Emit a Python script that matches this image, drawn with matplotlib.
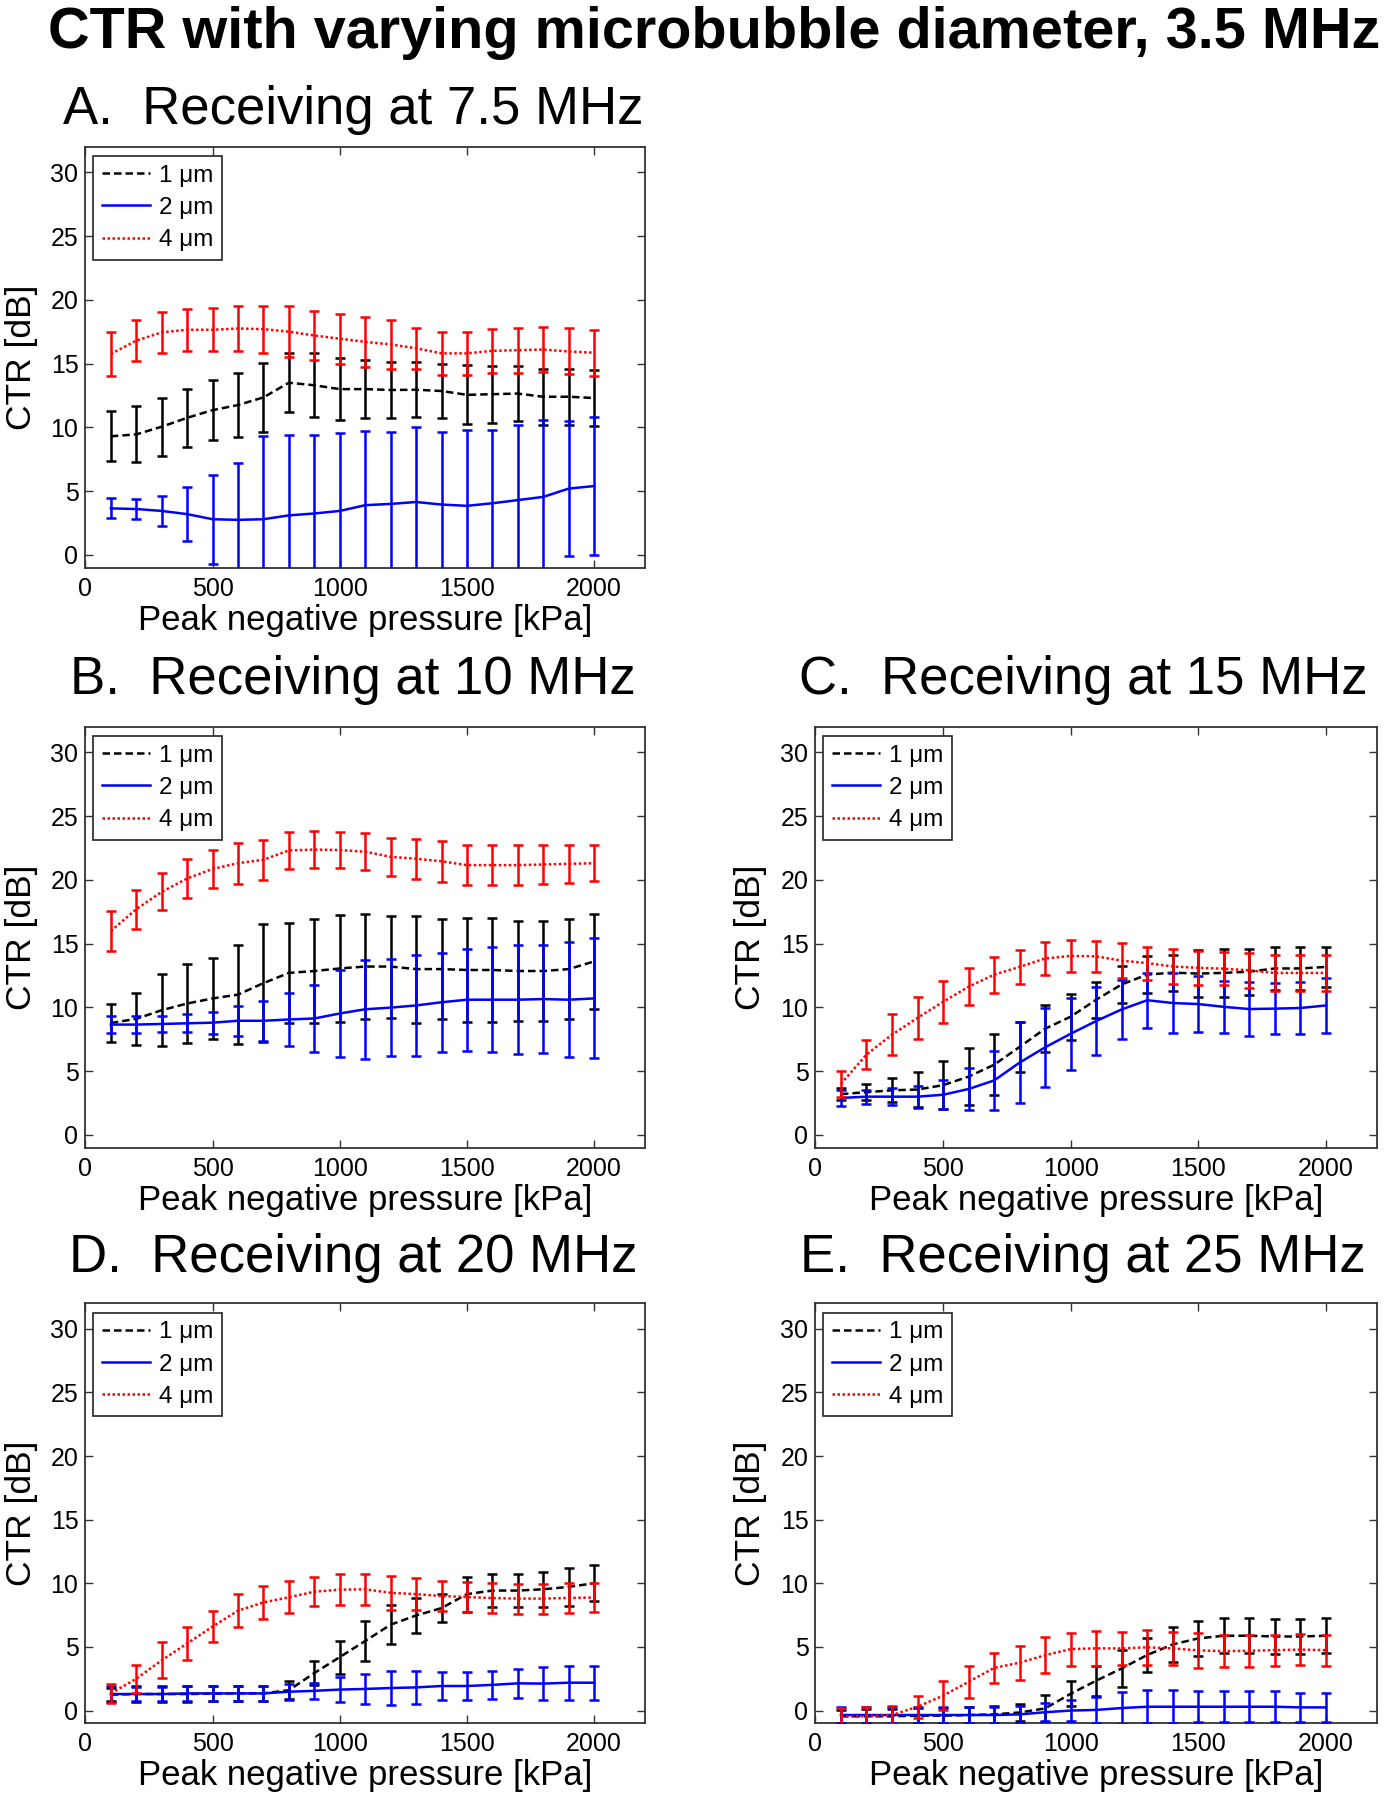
import matplotlib
matplotlib.use("Agg")
import matplotlib.pyplot as plt
import numpy as np

plt.rcParams['font.family'] = ['Liberation Sans', 'DejaVu Sans']

# ---------------- data ----------------
pressure = [100, 200, 300, 400, 500, 600, 700, 800, 900, 1000,
            1100, 1200, 1300, 1400, 1500, 1600, 1700, 1800, 1900, 2000]
diam_labels = ["1 \u03bcm", "2 \u03bcm", "4 \u03bcm"]
panel_titles = ["A.  Receiving at 7.5 MHz", "B.  Receiving at 10 MHz",
                "C.  Receiving at 15 MHz", "D.  Receiving at 20 MHz",
                "E.  Receiving at 25 MHz"]
main_title = "CTR with varying microbubble diameter, 3.5 MHz"
x_ticks = [0, 500, 1000, 1500, 2000]
y_ticks = [0, 5, 10, 15, 20, 25, 30]

# Panel A (7.5 MHz)
A_k_mean = [9.3, 9.45, 10.05, 10.75, 11.35, 11.75, 12.35, 13.5, 13.3, 13.0, 13.0, 12.93, 12.95, 12.85, 12.55, 12.6, 12.65, 12.4, 12.4, 12.3]
A_k_err = [1.97, 2.2, 2.27, 2.27, 2.37, 2.5, 2.7, 2.3, 2.5, 2.4, 2.3, 2.23, 2.15, 2.15, 2.3, 2.22, 2.15, 2.2, 2.19, 2.23]
A_b_mean = [3.65, 3.6, 3.45, 3.2, 2.8, 2.75, 2.8, 3.1, 3.25, 3.45, 3.9, 4.0, 4.15, 3.95, 3.85, 4.05, 4.3, 4.55, 5.2, 5.4]
A_b_err = [0.78, 0.8, 1.2, 2.1, 3.5, 4.43, 6.5, 6.3, 6.15, 6.1, 5.8, 5.65, 5.85, 5.7, 5.95, 5.75, 5.9, 6.05, 5.3, 5.4]
A_r_mean = [15.75, 16.8, 17.45, 17.65, 17.65, 17.75, 17.7, 17.5, 17.2, 16.95, 16.7, 16.5, 16.2, 15.8, 15.8, 16.0, 16.05, 16.1, 15.95, 15.85]
A_r_err = [1.75, 1.6, 1.6, 1.65, 1.7, 1.8, 1.85, 2.0, 1.9, 1.95, 1.95, 1.9, 1.6, 1.7, 1.7, 1.7, 1.75, 1.75, 1.8, 1.8]

# Panel B (10 MHz)
B_k_mean = [8.77, 9.1, 9.78, 10.3, 10.7, 11.0, 11.9, 12.7, 12.85, 13.05, 13.2, 13.2, 13.0, 13.0, 12.93, 12.93, 12.85, 12.85, 13.0, 13.6]
B_k_err = [1.5, 2.05, 2.8, 3.07, 3.2, 3.9, 4.6, 3.9, 4.05, 4.2, 4.1, 4.0, 4.2, 3.9, 4.05, 4.05, 3.95, 3.95, 3.9, 3.7]
B_b_mean = [8.65, 8.65, 8.7, 8.75, 8.8, 8.95, 8.95, 9.05, 9.13, 9.52, 9.85, 9.98, 10.15, 10.4, 10.6, 10.6, 10.6, 10.65, 10.6, 10.7]
B_b_err = [0.67, 0.67, 0.65, 0.7, 0.85, 1.17, 1.55, 2.05, 2.65, 3.43, 3.9, 3.8, 3.95, 3.9, 4.0, 4.1, 4.25, 4.25, 4.5, 4.7]
B_r_mean = [15.98, 17.7, 19.05, 20.1, 20.85, 21.3, 21.57, 22.3, 22.37, 22.33, 22.2, 21.8, 21.65, 21.45, 21.15, 21.15, 21.15, 21.2, 21.25, 21.3]
B_r_err = [1.55, 1.52, 1.45, 1.5, 1.5, 1.6, 1.55, 1.45, 1.45, 1.42, 1.47, 1.5, 1.55, 1.62, 1.55, 1.55, 1.55, 1.52, 1.48, 1.42]

# Panel C (15 MHz)
C_k_mean = [3.2, 3.35, 3.5, 3.56, 3.9, 4.57, 5.5, 6.9, 8.33, 9.27, 10.6, 11.8, 12.57, 12.72, 12.65, 12.7, 12.8, 13.05, 13.05, 13.17]
C_k_err = [0.5, 0.65, 0.93, 1.4, 1.87, 2.23, 2.4, 1.95, 1.85, 1.8, 1.4, 1.42, 1.43, 1.4, 1.85, 1.9, 1.8, 1.65, 1.65, 1.6]
C_b_mean = [2.9, 3.0, 3.0, 3.0, 3.15, 3.6, 4.27, 5.67, 6.87, 7.93, 8.93, 9.84, 10.56, 10.34, 10.26, 10.04, 9.87, 9.9, 9.95, 10.15]
C_b_err = [0.6, 0.55, 0.65, 0.85, 1.12, 1.66, 2.33, 3.2, 3.1, 2.83, 2.65, 2.34, 2.14, 2.36, 2.18, 2.06, 2.1, 2.0, 2.05, 2.15]
C_r_mean = [4.0, 6.3, 7.86, 9.17, 10.43, 11.62, 12.56, 13.17, 13.83, 14.03, 14.0, 13.66, 13.47, 13.2, 13.1, 13.03, 12.9, 12.7, 12.7, 12.7]
C_r_err = [1.04, 1.14, 1.6, 1.66, 1.67, 1.46, 1.42, 1.33, 1.27, 1.26, 1.22, 1.36, 1.3, 1.38, 1.32, 1.3, 1.36, 1.38, 1.42, 1.42]

# Panel D (20 MHz)
D_k_mean = [1.25, 1.3, 1.3, 1.3, 1.33, 1.35, 1.35, 1.6, 2.95, 4.2, 5.47, 6.75, 7.47, 8.05, 9.15, 9.43, 9.43, 9.53, 9.72, 10.0]
D_k_err = [0.5, 0.6, 0.6, 0.62, 0.6, 0.57, 0.57, 0.7, 0.95, 1.3, 1.56, 1.55, 1.35, 1.1, 1.37, 1.27, 1.27, 1.37, 1.5, 1.4]
D_b_mean = [1.3, 1.3, 1.3, 1.35, 1.35, 1.35, 1.35, 1.48, 1.55, 1.65, 1.7, 1.77, 1.82, 1.93, 1.93, 2.02, 2.14, 2.12, 2.19, 2.19]
D_b_err = [0.6, 0.55, 0.57, 0.57, 0.57, 0.57, 0.58, 0.62, 0.65, 0.97, 1.18, 1.35, 1.3, 1.07, 1.07, 1.1, 1.15, 1.27, 1.33, 1.33]
D_r_mean = [1.35, 2.5, 3.95, 5.27, 6.6, 7.85, 8.5, 8.9, 9.34, 9.5, 9.53, 9.25, 9.15, 9.0, 8.92, 8.84, 8.8, 8.8, 8.85, 8.88]
D_r_err = [0.75, 1.1, 1.4, 1.33, 1.24, 1.3, 1.27, 1.27, 1.12, 1.2, 1.24, 1.34, 1.24, 1.16, 1.15, 1.2, 1.18, 1.18, 1.17, 1.12]

# Panel E (25 MHz)
E_k_mean = [-0.45, -0.45, -0.45, -0.4, -0.4, -0.35, -0.3, -0.15, 0.17, 1.32, 2.35, 3.31, 4.37, 5.2, 5.67, 5.88, 5.88, 5.82, 5.82, 5.88]
E_k_err = [0.5, 0.55, 0.6, 0.6, 0.6, 0.65, 0.65, 0.65, 1.08, 0.98, 1.17, 1.46, 1.37, 1.35, 1.37, 1.37, 1.37, 1.4, 1.4, 1.37]
E_b_mean = [-0.35, -0.35, -0.35, -0.35, -0.35, -0.35, -0.35, -0.3, -0.13, 0.0, 0.05, 0.2, 0.3, 0.3, 0.3, 0.3, 0.3, 0.3, 0.25, 0.25]
E_b_err = [0.65, 0.6, 0.6, 0.6, 0.6, 0.6, 0.6, 0.65, 0.7, 0.8, 1.05, 1.25, 1.3, 1.3, 1.2, 1.2, 1.2, 1.2, 1.15, 1.15]
E_r_mean = [-0.45, -0.45, -0.35, 0.3, 1.17, 2.26, 3.35, 3.76, 4.35, 4.83, 4.89, 4.88, 4.97, 4.88, 4.73, 4.67, 4.7, 4.75, 4.79, 4.75]
E_r_err = [0.65, 0.7, 0.7, 0.87, 1.13, 1.27, 1.17, 1.33, 1.4, 1.3, 1.37, 1.33, 1.37, 1.28, 1.35, 1.28, 1.25, 1.22, 1.24, 1.22]

panels = [
    (A_k_mean, A_k_err, A_b_mean, A_b_err, A_r_mean, A_r_err),
    (B_k_mean, B_k_err, B_b_mean, B_b_err, B_r_mean, B_r_err),
    (C_k_mean, C_k_err, C_b_mean, C_b_err, C_r_mean, C_r_err),
    (D_k_mean, D_k_err, D_b_mean, D_b_err, D_r_mean, D_r_err),
    (E_k_mean, E_k_err, E_b_mean, E_b_err, E_r_mean, E_r_err),
]

# ---------------- layout (pixels in a 1389x1800 canvas) ----------------
W, H = 1389, 1800
fig = plt.figure(figsize=(W / 100, H / 100), dpi=100)

def frac_rect(left, top, right, bottom):
    return [left / W, 1 - bottom / H, (right - left) / W, (bottom - top) / H]

axes_px = [
    (85.4, 146.7, 645.0, 567.7),
    (85.4, 726.7, 645.0, 1147.7),
    (815.4, 726.7, 1377.0, 1147.7),
    (85.4, 1303.3, 645.0, 1723.3),
    (815.4, 1303.3, 1377.0, 1723.3),
]
title_px = [(353, 124), (353, 694), (1083, 694), (353, 1272), (1083, 1272)]

styles = [
    dict(color='#000000', ls=(0, (3, 1.6))),
    dict(color='#0000FF', ls='-'),
    dict(color='#FF0000', ls=(0, (1, 1))),
]

spine_col = '#333333'
for i, (vals, rect, tpos) in enumerate(zip(panels, axes_px, title_px)):
    ax = fig.add_axes(frac_rect(*rect))
    handles = []
    for j in range(3):
        m = vals[2 * j]
        e = vals[2 * j + 1]
        st = styles[j]
        eb = ax.errorbar(pressure, m, yerr=e, color=st['color'], ecolor=st['color'],
                         elinewidth=1.8, capsize=3.4, capthick=1.8, zorder=2 + j)
        eb[0].set_linestyle(st['ls'])
        eb[0].set_linewidth(1.8)
        handles.append(eb[0])
    ax.set_xlim(0, 2200)
    ax.set_ylim(-1, 32)
    ax.set_xticks(x_ticks)
    ax.set_yticks(y_ticks)
    ax.tick_params(direction='in', top=True, right=True, length=6, width=1.0,
                   color=spine_col, labelsize=18)
    ax.tick_params(axis='x', pad=6.5)
    ax.tick_params(axis='y', pad=5)
    for sp in ax.spines.values():
        sp.set_color(spine_col)
        sp.set_linewidth(1.3)
    ax.set_xlabel("Peak negative pressure [kPa]", fontsize=25)
    ax.xaxis.set_label_coords(0.5, -0.125)
    ax.xaxis.label.set_va('center')
    ax.set_ylabel("CTR [dB]", fontsize=25.5)
    ax.yaxis.set_label_coords(-0.115, 0.5)
    ax.yaxis.label.set_va('center')
    leg = ax.legend(handles, diam_labels, loc='upper left',
                    bbox_to_anchor=(0.0143, 0.978), borderaxespad=0,
                    fontsize=17.5, handlelength=1.95, handletextpad=0.4,
                    labelspacing=0.42, borderpad=0.36, fancybox=False,
                    framealpha=1, edgecolor='#222222')
    leg.get_frame().set_linewidth(1.2)
    fig.text(tpos[0] / W, 1 - tpos[1] / H, panel_titles[i], ha='center',
             va='baseline', fontsize=38)

fig.text(714 / W, 1 - 48 / H, main_title, ha='center', va='baseline',
         fontsize=41.5, fontweight='bold')

fig.savefig("out.png", dpi=100)
